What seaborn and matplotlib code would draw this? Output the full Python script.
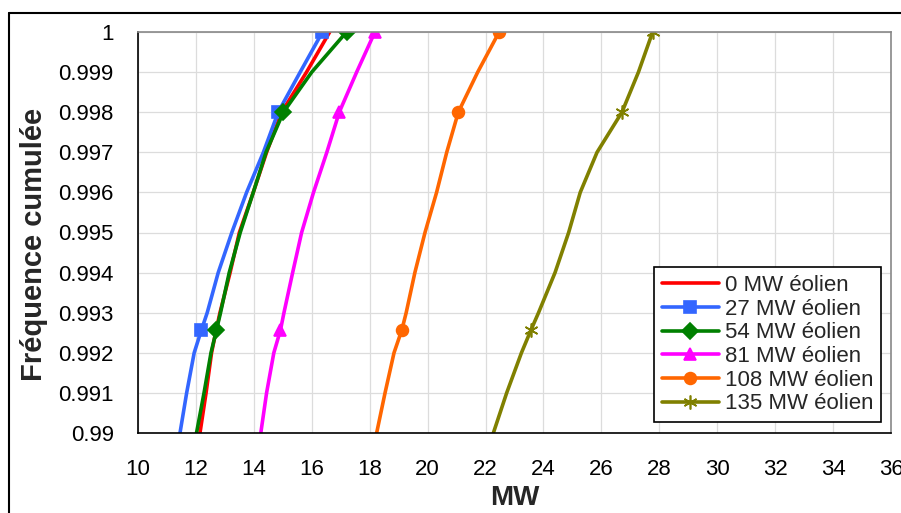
import matplotlib
matplotlib.use("Agg")
import matplotlib.pyplot as plt
from matplotlib.lines import Line2D
import seaborn as sns

# cumulative frequency levels shared by every series
freq = [0.990, 0.991, 0.992, 0.99257, 0.993, 0.994, 0.995, 0.996, 0.997, 0.998, 0.999, 1.000]

mw_0 = [12.14, 12.35, 12.54, 12.70, 12.83, 13.18, 13.50, 13.98, 14.44, 14.96, 15.82, 16.62]
mw_27 = [11.45, 11.68, 11.94, 12.19, 12.39, 12.77, 13.24, 13.75, 14.33, 14.84, 15.60, 16.37]
mw_54 = [12.02, 12.28, 12.52, 12.71, 12.85, 13.15, 13.53, 13.98, 14.42, 15.02, 16.00, 17.20]
mw_81 = [14.24, 14.44, 14.69, 14.92, 15.04, 15.34, 15.65, 16.06, 16.52, 16.95, 17.55, 18.18]
mw_108 = [18.24, 18.53, 18.84, 19.11, 19.26, 19.56, 19.91, 20.31, 20.66, 21.06, 21.73, 22.47]
mw_135 = [22.27, 22.73, 23.24, 23.57, 23.83, 24.40, 24.87, 25.27, 25.85, 26.71, 27.28, 27.77]

labels = ["0 MW éolien", "27 MW éolien", "54 MW éolien", "81 MW éolien", "108 MW éolien", "135 MW éolien"]
colors = ["#FF0000", "#3366FF", "#008000", "#FF00FF", "#FF6600", "#808000"]
markers = [None, "s", "D", "^", "o", (6, 2, 0)]
marker_idx = [3, 9, 11]

x_ticks = list(range(10, 37, 2))
y_ticks = [0.990, 0.991, 0.992, 0.993, 0.994, 0.995, 0.996, 0.997, 0.998, 0.999, 1.000]
y_ticklabels = ["0.99", "0.991", "0.992", "0.993", "0.994", "0.995", "0.996", "0.997", "0.998", "0.999", "1"]

sns.set_style("white")
plt.rcParams["font.family"] = ["Liberation Sans", "DejaVu Sans"]

fig = plt.figure(figsize=(9.01, 5.13), dpi=100)
ax = fig.add_axes([138 / 901, 1 - 433 / 513, (891 - 138) / 901, (433 - 32) / 513])

series = [mw_0, mw_27, mw_54, mw_81, mw_108, mw_135]
handles = []
for xs, name, col, mk in zip(series, labels, colors, markers):
    size = 10 if mk == (6, 2, 0) else 8.5
    sns.lineplot(x=xs, y=freq, ax=ax, color=col, linewidth=2.6, sort=False, estimator=None,
                 marker=mk, markevery=marker_idx if mk else None, markersize=size,
                 markeredgecolor=col, markerfacecolor=col, markeredgewidth=1.2, legend=False)
    handles.append(Line2D([], [], color=col, linewidth=2.6, marker=mk, markersize=size,
                          markeredgecolor=col, markerfacecolor=col, markeredgewidth=1.2))

ax.set_xlim(10, 36)
ax.set_ylim(0.99, 1.0)
ax.set_xticks(x_ticks)
ax.set_yticks(y_ticks)
ax.set_yticklabels(y_ticklabels)
ax.grid(True, color="#dcdcdc", linewidth=0.9)
ax.tick_params(direction="out", length=5.5, width=1, labelsize=16, colors="black")
ax.tick_params(axis="x", pad=13)
ax.tick_params(axis="y", pad=12)
for side in ["left", "bottom"]:
    ax.spines[side].set_color("black")
    ax.spines[side].set_linewidth(1.2)
for side in ["top", "right"]:
    ax.spines[side].set_color("#888888")
    ax.spines[side].set_linewidth(1.2)

ax.set_xlabel("MW", fontsize=20, fontweight="bold")
ax.set_ylabel("Fréquence cumulée", fontsize=21, fontweight="bold")
ax.xaxis.set_label_coords(0.5, -0.13)
ax.yaxis.set_label_coords(-0.12, 0.47)

leg = ax.legend(handles, labels, loc="lower right", bbox_to_anchor=(0.987, 0.027), fontsize=16,
                frameon=True, fancybox=False, framealpha=1, edgecolor="black", handlelength=2.6,
                handletextpad=0.25, labelspacing=0.12, borderpad=0.35, borderaxespad=0)
leg.get_frame().set_linewidth(1.2)

# outer chart frame
fig.add_artist(Line2D([9 / 901, 1], [1 - 13 / 513, 1 - 13 / 513], transform=fig.transFigure, color="black", linewidth=1.5))
fig.add_artist(Line2D([9 / 901, 9 / 901], [0, 1 - 13 / 513], transform=fig.transFigure, color="black", linewidth=1.5))

fig.savefig("out.png", dpi=100)
